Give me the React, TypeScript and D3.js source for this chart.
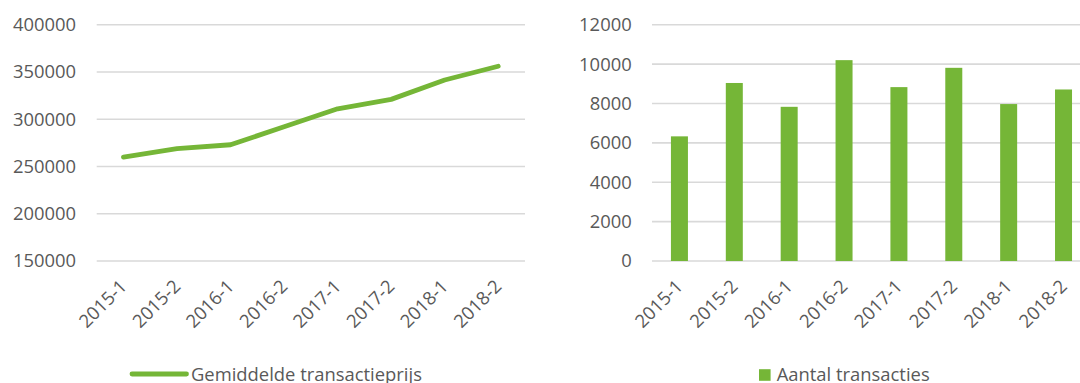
import React from "react";
import * as d3 from "d3";

const periods = ["2015-1", "2015-2", "2016-1", "2016-2", "2017-1", "2017-2", "2018-1", "2018-2"];
const avgPrice = [260000, 269000, 273000, 292000, 311000, 321000, 341500, 356000];
const txCount = [6330, 9040, 7830, 10200, 8830, 9810, 7970, 8710];
const priceTicks = [150000, 200000, 250000, 300000, 350000, 400000];
const countTicks = [0, 2000, 4000, 6000, 8000, 10000, 12000];

const GREEN = "#75b637";
const GRID = "#d9d9d9";
const TEXT = "#595959";
const FONT = "'Open Sans', sans-serif";
const FS = 18.4;

export default function App() {
  const top = 24.7;
  const bottom = 261;

  // Left panel: average transaction price
  const xL = d3.scaleBand<string>().domain(periods).range([96.7, 525]).padding(0);
  const yL = d3.scaleLinear().domain([150000, 400000]).range([bottom, top]);
  const line = d3
    .line<number>()
    .x((_, i) => (xL(periods[i]) as number) + xL.bandwidth() / 2)
    .y((d) => yL(d));

  // Right panel: number of transactions
  const xR = d3.scaleBand<string>().domain(periods).range([652, 652 + 8 * 54.87]).padding(0);
  const yR = d3.scaleLinear().domain([0, 12000]).range([bottom, top]);
  const barW = 17;

  const xLabel = (key: string, x: number) => (
    <text
      key={key}
      transform={`translate(${x},283) rotate(-45)`}
      textAnchor="end"
      dy="0.35em"
      fontSize={FS}
      fill={TEXT}
    >
      {key}
    </text>
  );

  return (
    <svg
      width={1080}
      height={383}
      style={{ position: "absolute", left: 0, top: 0, background: "#fff" }}
      fontFamily={FONT}
    >
      {/* left chart */}
      <g>
        {priceTicks.map((t) => (
          <g key={t}>
            <line x1={96.7} x2={525} y1={yL(t)} y2={yL(t)} stroke={GRID} strokeWidth={1.6} />
            <text x={76} y={yL(t)} dy="0.35em" textAnchor="end" fontSize={FS} fill={TEXT}>
              {t}
            </text>
          </g>
        ))}
        <path
          d={line(avgPrice) as string}
          fill="none"
          stroke={GREEN}
          strokeWidth={4.8}
          strokeLinecap="round"
          strokeLinejoin="round"
        />
        {periods.map((p) => xLabel(p, (xL(p) as number) + xL.bandwidth() / 2))}
        <line x1={132} x2={186.5} y1={374} y2={374} stroke={GREEN} strokeWidth={4.8} strokeLinecap="round" />
        <text x={191} y={380.7} fontSize={FS} fill={TEXT}>
          Gemiddelde transactieprijs
        </text>
      </g>

      {/* right chart */}
      <g>
        {countTicks.map((t) => (
          <g key={t}>
            <line x1={652} x2={1092} y1={yR(t)} y2={yR(t)} stroke={GRID} strokeWidth={1.6} />
            <text x={631.7} y={yR(t)} dy="0.35em" textAnchor="end" fontSize={FS} fill={TEXT}>
              {t}
            </text>
          </g>
        ))}
        {txCount.map((v, i) => {
          const cx = (xR(periods[i]) as number) + xR.bandwidth() / 2;
          return (
            <rect
              key={periods[i]}
              x={cx - barW / 2}
              y={yR(v)}
              width={barW}
              height={yR(0) - yR(v)}
              fill={GREEN}
            />
          );
        })}
        {periods.map((p) => xLabel(p, (xR(p) as number) + xR.bandwidth() / 2))}
        <rect x={759} y={369.2} width={11.6} height={11.6} fill={GREEN} />
        <text x={776.7} y={380.7} fontSize={FS} fill={TEXT}>
          Aantal transacties
        </text>
      </g>
    </svg>
  );
}
